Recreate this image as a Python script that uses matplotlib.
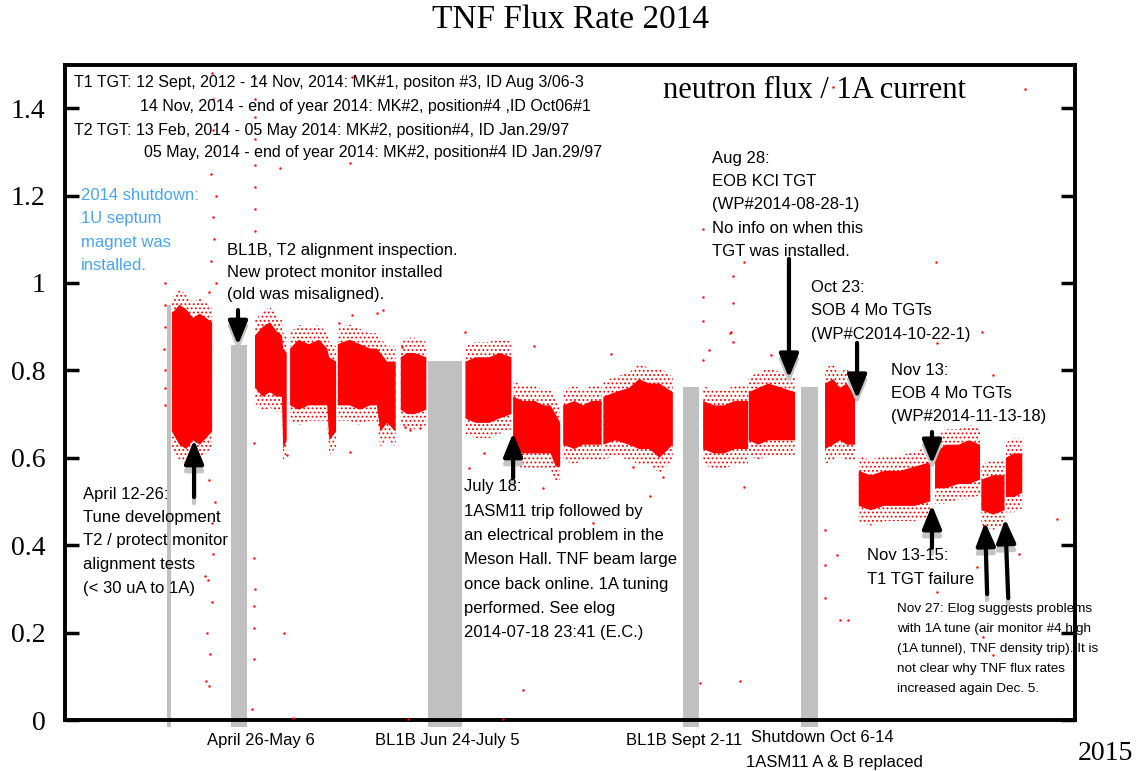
import numpy as np
import matplotlib.pyplot as plt
from matplotlib.transforms import offset_copy

plt.rcParams['font.family'] = ['Liberation Sans', 'DejaVu Sans']
plt.rcParams['hatch.color'] = 'red'
plt.rcParams['hatch.linewidth'] = 0.8

W, H = 1140, 771
nan = np.nan

# dense part of the flux readings: day of year, upper / lower edge (nan = beam off)
flux_day = [99.8, 102.0, 104.0, 106.0, 108.0, 111.6, nan,
            124.2, 126.5, 128.6, 130.5, 132.1, 132.5, 133.5, nan,
            134.5, 137.0, 140.0, 143.0, 145.4, 146.0, 148.0, nan,
            148.5, 152.0, 155.0, 158.0, 160.0, 161.0, 163.0, 165.5, nan,
            167.0, 169.0, 171.0, 174.5, nan,
            186.0, 189.0, 193.0, 196.0, 199.5, nan,
            200.0, 203.0, 206.4, 209.0, 211.0, 212.5, 213.8, nan,
            214.7, 218.0, 220.5, 223.0, 226.0, nan,
            226.5, 230.0, 234.0, 237.0, 240.0, 243.0, 246.9, nan,
            255.8, 259.0, 262.0, 265.0, 269.0, nan,
            269.2, 272.0, 275.0, 279.0, 282.8, nan,
            291.6, 294.0, 296.0, 298.0, 300.4, nan,
            301.5, 305.0, 309.0, 313.6, 318.0, 322.5, nan,
            323.9, 327.0, 330.7, 334.0, 337.1, nan,
            337.5, 341.0, 344.3, nan,
            344.7, 347.0, 349.5]
flux_hi = [0.93, 0.95, 0.94, 0.92, 0.93, 0.91, nan,
           0.88, 0.90, 0.91, 0.89, 0.88, 0.85, 0.84, nan,
           0.85, 0.87, 0.86, 0.87, 0.85, 0.83, 0.82, nan,
           0.86, 0.87, 0.86, 0.85, 0.85, 0.84, 0.82, 0.82, nan,
           0.83, 0.84, 0.84, 0.83, nan,
           0.82, 0.83, 0.83, 0.84, 0.83, nan,
           0.74, 0.73, 0.73, 0.72, 0.72, 0.70, 0.68, nan,
           0.72, 0.73, 0.72, 0.73, 0.73, nan,
           0.74, 0.75, 0.76, 0.78, 0.77, 0.77, 0.75, nan,
           0.73, 0.72, 0.72, 0.73, 0.73, nan,
           0.75, 0.76, 0.77, 0.76, 0.75, nan,
           0.77, 0.78, 0.76, 0.77, 0.74, nan,
           0.57, 0.56, 0.57, 0.57, 0.58, 0.59, nan,
           0.61, 0.63, 0.63, 0.64, 0.63, nan,
           0.55, 0.56, 0.56, nan,
           0.60, 0.61, 0.61]
flux_lo = [0.66, 0.63, 0.62, 0.64, 0.63, 0.66, nan,
           0.76, 0.74, 0.75, 0.74, 0.74, 0.62, 0.64, nan,
           0.72, 0.71, 0.72, 0.72, 0.72, 0.64, 0.66, nan,
           0.72, 0.72, 0.71, 0.72, 0.72, 0.66, 0.68, 0.66, nan,
           0.71, 0.70, 0.70, 0.71, nan,
           0.69, 0.68, 0.68, 0.69, 0.70, nan,
           0.62, 0.61, 0.61, 0.61, 0.61, 0.58, 0.58, nan,
           0.63, 0.62, 0.63, 0.63, 0.63, nan,
           0.63, 0.64, 0.63, 0.62, 0.62, 0.60, 0.63, nan,
           0.62, 0.61, 0.61, 0.62, 0.62, nan,
           0.64, 0.63, 0.64, 0.64, 0.64, nan,
           0.62, 0.63, 0.64, 0.63, 0.63, nan,
           0.49, 0.48, 0.49, 0.49, 0.49, 0.50, nan,
           0.53, 0.53, 0.54, 0.54, 0.55, nan,
           0.48, 0.47, 0.48, nan,
           0.51, 0.51, 0.52]

# isolated readings
stray_day = [111.5, 112.0, 111.8, 112.3, 111.2, 112.6, 111.9, 112.2, 111.4, 112.8, 110.8,
             111.5, 112.0, 110.5, 111.7, 110.2, 111.0, 109.8, 112.5, 110.6, 110.7, 109.5,
             124.2, 124.2, 124.2, 124.2, 124.2, 124.2, 124.2, 124.2,
             124.0, 124.1, 124.0, 123.9, 124.0, 123.3,
             97.7, 97.7, 97.8, 97.6, 97.7, 97.8, 97.8, 131.5, 152.1, 152.7,
             255.8, 267.8, 264.6, 255.8, 264.6, 255.8, 264.0, 264.6, 257.5, 255.8,
             324.2, 337.7, 324.5, 341.0, 350.3, 294.0,
             359.7, 336.3, 348.6, 291.6, 291.6, 291.6, 296.0, 295.0, 298.4, 324.5, 338.0, 341.0,
             185.9, 206.1, 228.8, 263.7, 275.8, 187.1, 191.5, 235.2, 244.0, 267.8,
             208.8, 223.5, 240.2, 169.7, 172.6,
             148.9, 160.0, 152.7, 167.4, 123.9, 152.1, 168.3, 133.6, 161.8,
             135.4, 169.1, 197.0, 202.9, 132.7, 254.9, 266.7]
stray_val = [1.48, 1.42, 1.35, 1.30, 1.25, 1.20, 1.15, 1.10, 1.05, 1.00, 0.98,
             0.45, 0.38, 0.32, 0.27, 0.20, 0.15, 0.09, 0.50, 0.55, 0.078, 0.33,
             1.47, 1.42, 1.38, 1.33, 1.27, 1.22, 1.17, 1.12,
             0.37, 0.30, 0.26, 0.21, 0.14, 0.025,
             1.0, 0.95, 0.90, 0.85, 0.80, 0.76, 0.72, 1.263, 1.275, 1.471,
             1.124, 1.048, 1.016, 0.968, 0.954, 0.913, 0.888, 0.865, 0.847, 0.824,
             1.048, 0.888, 0.863, 0.79, 1.444, 1.449,
             0.46, 0.35, 0.38, 0.435, 0.355, 0.28, 0.229, 0.378, 0.229, 0.293, 0.19, 0.149,
             0.888, 0.856, 0.837, 0.886, 0.835, 0.577, 0.611, 0.579, 0.556, 0.533,
             0.531, 0.451, 0.513, 0.664, 0.669,
             0.908, 0.931, 0.927, 0.854, 0.634, 0.613, 0.67, 0.606, 0.938,
             0.005, 0.002, 0.002, 0.069, 0.199, 0.085, 0.089]

# beam-off periods (grey bars)
off_start = [98.4, 117.2, 175.0, 249.9, 284.6]
off_end = [99.5, 121.9, 185.0, 254.6, 289.6]
off_top = [0.95, 0.857, 0.822, 0.762, 0.762]

yticks = [0, 0.2, 0.4, 0.6, 0.8, 1.0, 1.2, 1.4]
ytick_labels = ['0', '0.2', '0.4', '0.6', '0.8', '1', '1.2', '1.4']

fig = plt.figure(figsize=(W / 100, H / 100), dpi=100)
ax = fig.add_axes([65 / W, 1 - 720 / H, 1010 / W, (720 - 64.5) / H])
ax.set_xlim(68.4, 365)
ax.set_ylim(0, 1.5)

for s, e, t in zip(off_start, off_end, off_top):
    ax.bar(s, t + 0.015, width=e - s, bottom=-0.015, align='edge',
           color='#c0c0c0', linewidth=0, clip_on=False, zorder=1)

day = np.array(flux_day)
hi = np.array(flux_hi)
lo = np.array(flux_lo)
# frayed edge of the dense band
ax.fill_between(day, hi + 0.035, lo - 0.035, facecolor='none', edgecolor='red',
                hatch='....', linewidth=0, zorder=2)
ax.fill_between(day, hi, lo, color='red', linewidth=0, zorder=3)
ax.scatter(stray_day, stray_val, s=3, color='red', linewidths=0, zorder=3)

ax.set_xticks([])
ax.set_yticks(yticks)
ax.set_yticklabels(ytick_labels, family='Liberation Serif', fontsize=20)
ax.tick_params(axis='y', direction='in', length=10, width=2.5, pad=14,
               right=True)
for sp in ax.spines.values():
    sp.set_linewidth(2.8)


def ftxt(x, y, s, **kw):
    kw.setdefault('fontsize', 12)
    kw.setdefault('va', 'center')
    fig.text(x / W, 1 - y / H, s, **kw)


def block(x, y0, step, lines, **kw):
    for i, line in enumerate(lines):
        ftxt(x, y0 + i * step, line, **kw)


serif = 'Liberation Serif'
ftxt(571, 20, 'TNF Flux Rate 2014', family=serif, fontsize=24, ha='center')
ftxt(663, 90, 'neutron flux / 1A current', family=serif, fontsize=22)
ftxt(1078, 754, '2015', family=serif, fontsize=20)

ftxt(74, 83, 'T1 TGT: 12 Sept, 2012 - 14 Nov, 2014: MK#1, positon #3, ID Aug 3/06-3', fontsize=11.5)
ftxt(140, 107, '14 Nov, 2014 - end of year 2014: MK#2, position#4 ,ID Oct06#1', fontsize=11.5)
ftxt(74, 130, 'T2 TGT: 13 Feb, 2014 - 05 May 2014: MK#2, position#4, ID Jan.29/97', fontsize=11.5)
ftxt(144, 153, '05 May, 2014 - end of year 2014: MK#2, position#4 ID Jan.29/97', fontsize=11.5)

block(81, 195, 23.5, ['2014 shutdown:', '1U septum', 'magnet was', 'installed.'],
      color='#4aa3f0')
block(227, 250, 22.5, ['BL1B, T2 alignment inspection.', 'New protect monitor installed',
                       '(old was misaligned).'])
block(83, 494, 23.5, ['April 12-26:', 'Tune development', 'T2 / protect monitor',
                      'alignment tests', '(< 30 uA to 1A)'])
block(464, 487, 24.3, ['July 18:', '1ASM11 trip followed by', 'an electrical problem in the',
                       'Meson Hall. TNF beam large', 'once back online. 1A tuning',
                       'performed. See elog', '2014-07-18 23:41 (E.C.)'])
block(712, 158, 23.5, ['Aug 28:', 'EOB KCl TGT', '(WP#2014-08-28-1)',
                       'No info on when this', 'TGT was installed.'])
block(811, 287, 23.5, ['Oct 23:', 'SOB 4 Mo TGTs', '(WP#C2014-10-22-1)'])
block(891, 370, 23.5, ['Nov 13:', 'EOB 4 Mo TGTs', '(WP#2014-11-13-18)'])
block(867, 555, 25, ['Nov 13-15:', 'T1 TGT failure'])
block(897, 609, 20, ['Nov 27: Elog suggests problems', 'with 1A tune (air monitor #4 high',
                     '(1A tunnel), TNF density trip). It is', 'not clear why TNF flux rates',
                     'increased again Dec. 5.'], fontsize=9.7)

ftxt(261, 740, 'April 26-May 6', ha='center')
ftxt(447, 740, 'BL1B Jun 24-July 5', ha='center')
ftxt(684, 740, 'BL1B Sept 2-11', ha='center')
ftxt(822, 738, 'Shutdown Oct 6-14', ha='center')
ftxt(834, 762, '1ASM11 A & B replaced', ha='center')

# arrows: (tail day, tail value, tip day, tip value)
arrows = [(119.2, 0.938, 119.2, 0.858),
          (106.3, 0.510, 106.3, 0.641),
          (200.0, 0.554, 200.0, 0.657),
          (281.0, 1.055, 281.0, 0.783),
          (301.0, 0.863, 301.0, 0.735),
          (323.0, 0.659, 323.0, 0.586),
          (323.0, 0.394, 323.0, 0.492),
          (339.2, 0.288, 338.6, 0.453),
          (345.4, 0.279, 344.5, 0.460)]
shadow = offset_copy(ax.transData, fig=fig, x=0, y=-6, units='dots')
for x0, y0, x1, y1 in arrows:
    for tr, col in ((shadow, '#c4c4c4'), (ax.transData, 'black')):
        ax.annotate('', xy=(x1, y1), xytext=(x0, y0), xycoords=tr, textcoords=tr,
                    arrowprops=dict(arrowstyle='-|>,head_width=0.45,head_length=1.1',
                                    lw=3, color=col, mutation_scale=13,
                                    shrinkA=0, shrinkB=0), zorder=5)

fig.savefig('out.png', dpi=100)
